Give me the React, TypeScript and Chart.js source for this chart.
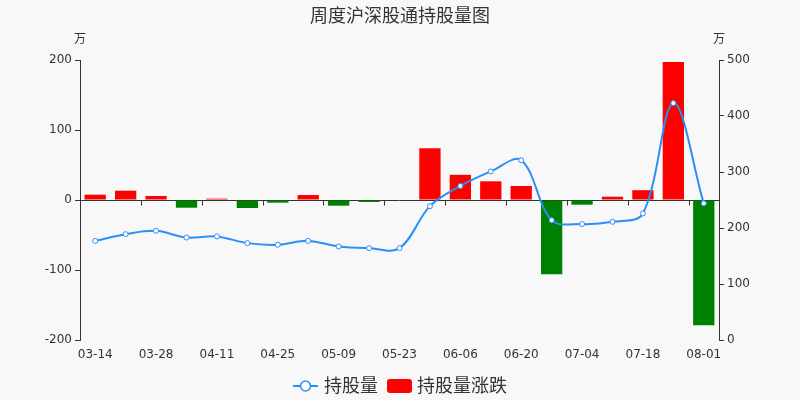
import React, { useEffect, useRef } from "react";
import { Chart, registerables } from "chart.js";

Chart.register(...registerables);

const categories = ["03-14","03-21","03-28","04-04","04-11","04-18","04-25","05-02","05-09","05-16","05-23","05-30","06-06","06-13","06-20","06-27","07-04","07-11","07-18","07-25","08-01"];
const holdings = [177,189,195,183,185,173,170,177,167,164,164,239,275,301,321,214,207,211,226,423,244];
const changes = [7.6,13.3,5.7,-11,1.9,-11.4,-3.8,7.1,-8.1,-2.9,0,74,36,26.7,20,-106,-6.7,4.7,14,197,-179];
const leftTicks = [-200,-100,0,100,200];
const rightTicks = [0,100,200,300,400,500];

const FONT = "'DejaVu Sans', 'Noto Sans CJK SC', sans-serif";
const CJK = "'Noto Sans CJK SC', 'DejaVu Sans', sans-serif";
const TXT = "#333";
const BLUE = "#2a8ff7";

const decor = {
  id: "decor",
  beforeDraw(chart: any) {
    const ctx = chart.ctx;
    ctx.save();
    ctx.fillStyle = "#f8f8f8";
    ctx.fillRect(0, 0, chart.width, chart.height);
    ctx.restore();
  },
  beforeDatasetsDraw(chart: any) {
    const ctx = chart.ctx;
    const x = chart.scales.x;
    const y = chart.scales.y;
    const area = chart.chartArea;
    const y0 = Math.round(y.getPixelForValue(0)) + 0.5;
    ctx.save();
    ctx.strokeStyle = TXT;
    ctx.lineWidth = 1;
    ctx.beginPath();
    ctx.moveTo(area.left, y0);
    ctx.lineTo(area.right, y0);
    const half = (x.getPixelForValue(1) - x.getPixelForValue(0)) / 2;
    for (let i = 0; i <= categories.length; i += 2) {
      const px = Math.round(x.getPixelForValue(i) - half) + 0.5;
      ctx.moveTo(px, y0);
      ctx.lineTo(px, y0 + 5);
    }
    ctx.stroke();
    ctx.restore();
  },
  afterDraw(chart: any) {
    const ctx = chart.ctx;
    const area = chart.chartArea;
    ctx.save();
    ctx.fillStyle = TXT;
    ctx.textAlign = "center";
    ctx.textBaseline = "middle";
    ctx.font = `18px ${CJK}`;
    ctx.fillText("周度沪深股通持股量图", 400, 15);
    ctx.font = `12px ${CJK}`;
    ctx.fillText("万", area.left, 38);
    ctx.fillText("万", area.right, 38);
    // legend
    const ly = 386;
    ctx.strokeStyle = BLUE;
    ctx.lineWidth = 2;
    ctx.beginPath();
    ctx.moveTo(293, ly);
    ctx.lineTo(318, ly);
    ctx.stroke();
    ctx.beginPath();
    ctx.arc(305.5, ly, 5, 0, Math.PI * 2);
    ctx.fillStyle = "#fff";
    ctx.fill();
    ctx.lineWidth = 1.5;
    ctx.stroke();
    ctx.fillStyle = TXT;
    ctx.textAlign = "left";
    ctx.font = `18px ${CJK}`;
    ctx.fillText("持股量", 324, ly - 1);
    ctx.fillStyle = "#ff0000";
    ctx.beginPath();
    (ctx as any).roundRect(387, ly - 7, 25, 14, 3);
    ctx.fill();
    ctx.fillStyle = TXT;
    ctx.fillText("持股量涨跌", 417, ly - 1);
    ctx.restore();
  },
};

export default function App() {
  const ref = useRef<HTMLCanvasElement>(null);
  useEffect(() => {
    document.body.style.margin = "0";
    const chart = new Chart(ref.current!, {
      type: "bar",
      data: {
        labels: categories,
        datasets: [
          {
            type: "line",
            label: "持股量",
            data: holdings,
            yAxisID: "y1",
            borderColor: BLUE,
            borderWidth: 2,
            tension: 0.35,
            pointRadius: 2.5,
            pointBackgroundColor: "#fff",
            pointBorderColor: BLUE,
            pointBorderWidth: 1,
            order: 0,
          } as any,
          {
            type: "bar",
            label: "持股量涨跌",
            data: changes,
            yAxisID: "y",
            backgroundColor: changes.map((v) => (v >= 0 ? "#ff0000" : "#008000")),
            categoryPercentage: 1,
            barPercentage: 0.7,
            order: 1,
          },
        ],
      },
      options: {
        responsive: false,
        animation: false,
        layout: { padding: { top: 60, left: 0, right: 0, bottom: 0 } },
        plugins: { legend: { display: false }, title: { display: false }, tooltip: { enabled: false } },
        scales: {
          x: {
            type: "category",
            offset: true,
            grid: { display: false, drawTicks: false },
            border: { display: false },
            ticks: {
              autoSkip: false,
              maxRotation: 0,
              padding: 8,
              color: TXT,
              font: { size: 12, family: FONT },
              callback: (_v: any, i: number) => (i % 2 === 0 ? categories[i] : ""),
            },
            afterFit: (s: any) => { s.height = 60; },
          },
          y: {
            position: "left",
            min: -200,
            max: 200,
            afterBuildTicks: (s: any) => { s.ticks = leftTicks.map((v) => ({ value: v })); },
            grid: { drawOnChartArea: false, tickLength: 5, color: TXT },
            border: { display: true, color: TXT },
            ticks: { padding: 3, color: TXT, font: { size: 12, family: FONT } },
            afterFit: (s: any) => { s.width = 80; },
          },
          y1: {
            position: "right",
            min: 0,
            max: 500,
            afterBuildTicks: (s: any) => { s.ticks = rightTicks.map((v) => ({ value: v })); },
            grid: { drawOnChartArea: false, tickLength: 5, color: TXT },
            border: { display: true, color: TXT },
            ticks: { padding: 3, color: TXT, font: { size: 12, family: FONT } },
            afterFit: (s: any) => { s.width = 81; },
          },
        },
      },
      plugins: [decor],
    });
    return () => chart.destroy();
  }, []);
  return <canvas ref={ref} width={800} height={400} style={{ display: "block" }} />;
}
